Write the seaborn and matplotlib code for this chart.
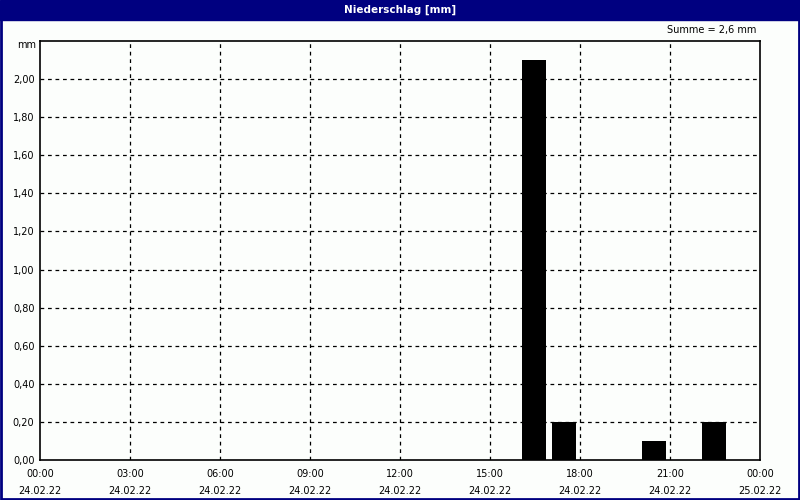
import numpy as np
import pandas as pd
import matplotlib
matplotlib.use("Agg")
import matplotlib.pyplot as plt
import seaborn as sns
from matplotlib.patches import Rectangle

# hourly precipitation bins (start hour on 24.02.22) and amounts in mm
start_hours = [16, 17, 20, 22]
amounts = [2.1, 0.2, 0.1, 0.2]
tick_hours = [0, 3, 6, 9, 12, 15, 18, 21, 24]
tick_times = ["00:00", "03:00", "06:00", "09:00", "12:00", "15:00", "18:00", "21:00", "00:00"]
tick_dates = ["24.02.22"] * 8 + ["25.02.22"]
y_ticks = [0.0, 0.2, 0.4, 0.6, 0.8, 1.0, 1.2, 1.4, 1.6, 1.8, 2.0]

navy = "#000080"
bg = "#FCFEFC"

sns.set_style("white")
plt.rcParams["font.family"] = ["DejaVu Sans"]
plt.rcParams["font.size"] = 7
plt.rcParams["text.color"] = "black"
plt.rcParams["xtick.color"] = "black"
plt.rcParams["ytick.color"] = "black"

df = pd.DataFrame({"hour": np.array(start_hours) + 0.47, "mm": amounts})

fig = plt.figure(figsize=(8, 5), dpi=100, facecolor=bg)
ax = fig.add_axes([0.05, 0.08, 0.90, 0.838])
ax.set_facecolor(bg)

sns.barplot(data=df, x="hour", y="mm", native_scale=True, width=0.8,
            color="black", saturation=1, edgecolor="black", linewidth=0, ax=ax)

ax.set_xlim(0, 24)
ax.set_ylim(0, 2.2)
ax.set_xticks(tick_hours)
ax.set_xticklabels([f"{t}\n{d}" for t, d in zip(tick_times, tick_dates)], linespacing=1.85)
ax.set_xticks(range(25), minor=True)
ax.set_yticks(y_ticks)
ax.set_yticklabels([f"{v:.2f}".replace(".", ",") for v in y_ticks])
ax.tick_params(axis="x", which="both", direction="inout", length=4, width=1, pad=4.5, color="black")
ax.tick_params(axis="y", length=0, pad=4)
ax.set_xlabel("")
ax.set_ylabel("")

for v in y_ticks[1:]:
    ax.axhline(v, color="black", linestyle=(0, (3, 3)), linewidth=0.9, zorder=0)
for h in tick_hours[1:-1]:
    ax.axvline(h, color="black", linestyle=(0, (3, 3)), linewidth=0.9, zorder=0)

for s in ax.spines.values():
    s.set_color("black")
    s.set_linewidth(1.2)

fig.text(0.045, 0.91, "mm", ha="right", va="center", fontsize=7)
fig.text(0.945, 0.939, "Summe = 2,6 mm", ha="right", va="center", fontsize=7)

# window frame with title bar
fig.patches.append(Rectangle((0, 0.96), 1, 0.04, transform=fig.transFigure, color=navy, zorder=0))
fig.patches.append(Rectangle((0.0015, 0.003), 0.997, 0.96, transform=fig.transFigure,
                             fill=False, edgecolor=navy, linewidth=2, zorder=0))
fig.text(0.5, 0.981, "Niederschlag [mm]", ha="center", va="center", color="white",
         fontsize=7.5, fontweight="bold")

fig.savefig("out.png", dpi=100, facecolor=bg)
